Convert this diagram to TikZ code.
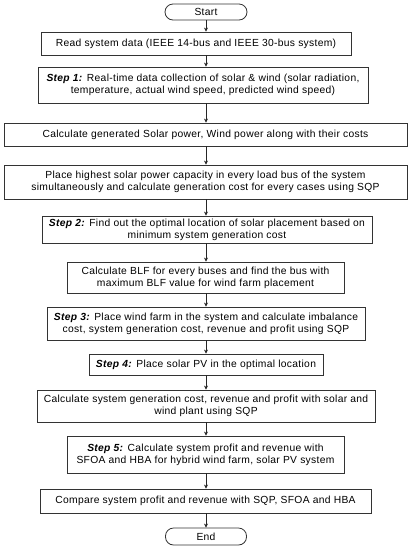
\documentclass[tikz,border=0pt]{standalone}
\usepackage{fontspec}
\setmainfont[LetterSpace=3]{Liberation Sans}
\usetikzlibrary{arrows.meta}

\tikzset{
  box/.style={draw=black!80, line width=0.8pt, align=center, inner sep=0pt, font=\fontsize{10.3}{12}\selectfont},
  term/.style={box, rounded corners=8pt},
  flow/.style={draw=black!85, line width=0.7pt, -{Stealth[length=4pt,width=4pt]}}
}
\newcommand{\stepname}[1]{\textbf{\textit{Step #1:}}}

\begin{document}
\begin{tikzpicture}[x=1pt,y=-1pt]
\useasboundingbox (0,0) rectangle (414,550);
\node[term, minimum width=82, minimum height=16] (start) at (206,12) {Start};
\node[box, minimum width=310, minimum height=23] (read) at (196,43.5) {Read system data (IEEE 14-bus and IEEE 30-bus system)};
\node[box, minimum width=330, minimum height=36] (step1) at (203,85) {\stepname{1} Real-time data collection of solar \& wind (solar radiation,\\ temperature, actual wind speed, predicted wind speed)};
\node[box, minimum width=403, minimum height=23] (calc) at (205.5,134.5) {Calculate generated Solar power, Wind power along with their costs};
\node[box, minimum width=403, minimum height=34] (place) at (205.5,182) {Place highest solar power capacity in every load bus of the system\\ simultaneously and calculate generation cost for every cases using SQP};
\node[box, minimum width=330, minimum height=27] (step2) at (207,229.5) {\stepname{2} Find out the optimal location of solar placement based on\\ minimum system generation cost};
\node[box, minimum width=277, minimum height=31] (blf) at (205.5,277.5) {Calculate BLF for every buses and find the bus with\\ maximum BLF value for wind farm placement};
\node[box, minimum width=318, minimum height=33] (step3) at (206,323.5) {\stepname{3} Place wind farm in the system and calculate imbalance\\ cost, system generation cost, revenue and profit using SQP};
\node[box, minimum width=234, minimum height=21] (step4) at (206,364.5) {\stepname{4} Place solar PV in the optimal location};
\node[box, minimum width=338, minimum height=32] (cost) at (206,406) {Calculate system generation cost, revenue and profit with solar and\\ wind plant using SQP};
\node[box, minimum width=277, minimum height=37] (step5) at (205.5,454.5) {\stepname{5} Calculate system profit and revenue with\\ SFOA and HBA for hybrid wind farm, solar PV system};
\node[box, minimum width=331, minimum height=24] (comp) at (205.5,501) {Compare system profit and revenue with SQP, SFOA and HBA};
\node[term, minimum width=81, minimum height=17] (end) at (206,536.5) {End};

% arrows down the middle
\foreach \a/\b in {start/read, read/step1, step1/calc, calc/place, place/step2, step2/blf,
  blf/step3, step3/step4, step4/cost, cost/step5, step5/comp, comp/end}
  \draw[flow] (\a.south -| start) -- (\b.north -| start);
\end{tikzpicture}
\end{document}
